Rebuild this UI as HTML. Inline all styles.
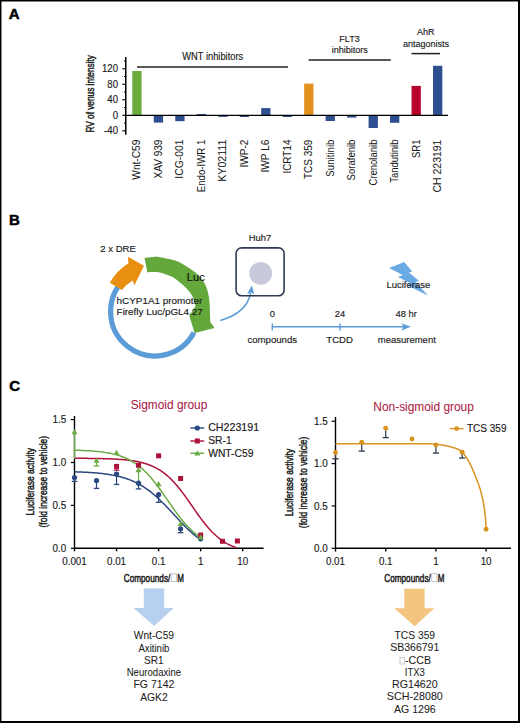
<!DOCTYPE html>
<html><head><meta charset="utf-8"><style>
html,body{margin:0;padding:0;background:#fff;}
body{width:520px;height:723px;overflow:hidden;}
svg{display:block;}
text{font-family:"Liberation Sans",sans-serif;}
</style></head><body>
<svg width="520" height="723" viewBox="0 0 520 723">
<rect x="0" y="0" width="520" height="723" fill="#fff"/>
<text x="8.70" y="19.20" font-size="15.0" text-anchor="start" fill="#000" font-weight="bold" stroke="#000" stroke-width="0.5">A</text>
<text x="9.00" y="225.00" font-size="15.0" text-anchor="start" fill="#000" font-weight="bold" stroke="#000" stroke-width="0.5">B</text>
<text x="9.20" y="391.30" font-size="15.0" text-anchor="start" fill="#000" font-weight="bold" stroke="#000" stroke-width="0.5">C</text>
<line x1="125.75" y1="57.00" x2="125.75" y2="134.80" stroke="#000" stroke-width="1.5" />
<line x1="122.30" y1="68.74" x2="126.00" y2="68.74" stroke="#000" stroke-width="1.1" />
<text x="118.00" y="72.14" font-size="10.6" text-anchor="end" fill="#1a1a1a" textLength="16.02" lengthAdjust="spacingAndGlyphs"  stroke="#1a1a1a" stroke-width="0.15">120</text>
<line x1="122.30" y1="84.26" x2="126.00" y2="84.26" stroke="#000" stroke-width="1.1" />
<text x="118.00" y="87.66" font-size="10.6" text-anchor="end" fill="#1a1a1a" textLength="10.68" lengthAdjust="spacingAndGlyphs"  stroke="#1a1a1a" stroke-width="0.15">80</text>
<line x1="122.30" y1="99.78" x2="126.00" y2="99.78" stroke="#000" stroke-width="1.1" />
<text x="118.00" y="103.18" font-size="10.6" text-anchor="end" fill="#1a1a1a" textLength="10.68" lengthAdjust="spacingAndGlyphs"  stroke="#1a1a1a" stroke-width="0.15">40</text>
<line x1="122.30" y1="115.30" x2="126.00" y2="115.30" stroke="#000" stroke-width="1.1" />
<text x="118.00" y="118.70" font-size="10.6" text-anchor="end" fill="#1a1a1a" textLength="5.34" lengthAdjust="spacingAndGlyphs"  stroke="#1a1a1a" stroke-width="0.15">0</text>
<line x1="122.30" y1="130.82" x2="126.00" y2="130.82" stroke="#000" stroke-width="1.1" />
<text x="118.00" y="134.22" font-size="10.6" text-anchor="end" fill="#1a1a1a" textLength="13.88" lengthAdjust="spacingAndGlyphs"  stroke="#1a1a1a" stroke-width="0.15">-40</text>
<line x1="124.00" y1="60.98" x2="126.00" y2="60.98" stroke="#000" stroke-width="1.0" />
<line x1="124.00" y1="76.50" x2="126.00" y2="76.50" stroke="#000" stroke-width="1.0" />
<line x1="124.00" y1="92.02" x2="126.00" y2="92.02" stroke="#000" stroke-width="1.0" />
<line x1="124.00" y1="107.54" x2="126.00" y2="107.54" stroke="#000" stroke-width="1.0" />
<line x1="124.00" y1="123.06" x2="126.00" y2="123.06" stroke="#000" stroke-width="1.0" />
<text transform="translate(93.60,93.85) rotate(-90)" font-size="10.6" text-anchor="middle" fill="#1a1a1a" textLength="77.5" lengthAdjust="spacingAndGlyphs"  stroke="#1a1a1a" stroke-width="0.45">RV of venus intensity</text>
<rect x="132.30" y="71.00" width="9.30" height="44.30" fill="#6aab3e"/>
<rect x="153.78" y="115.30" width="9.30" height="7.30" fill="#2e4f8f"/>
<rect x="175.26" y="115.30" width="9.30" height="5.90" fill="#2e4f8f"/>
<rect x="196.74" y="114.00" width="9.30" height="1.30" fill="#2e4f8f"/>
<rect x="218.22" y="115.30" width="9.30" height="1.60" fill="#2e4f8f"/>
<rect x="239.70" y="115.30" width="9.30" height="1.70" fill="#2e4f8f"/>
<rect x="261.18" y="108.10" width="9.30" height="7.20" fill="#2e4f8f"/>
<rect x="282.66" y="115.30" width="9.30" height="1.70" fill="#2e4f8f"/>
<rect x="304.14" y="83.60" width="9.30" height="31.70" fill="#e39220"/>
<rect x="325.62" y="115.30" width="9.30" height="5.70" fill="#2e4f8f"/>
<rect x="347.10" y="115.30" width="9.30" height="2.30" fill="#2e4f8f"/>
<rect x="368.58" y="115.30" width="9.30" height="12.70" fill="#2e4f8f"/>
<rect x="390.06" y="115.30" width="9.30" height="7.50" fill="#2e4f8f"/>
<rect x="411.54" y="85.90" width="9.30" height="29.40" fill="#b8002c"/>
<rect x="433.02" y="65.80" width="9.30" height="49.50" fill="#2e4f8f"/>
<line x1="126.00" y1="115.30" x2="448.00" y2="115.30" stroke="#000" stroke-width="1.3" />
<text transform="translate(140.35,139.60) rotate(-90)" font-size="10.0" text-anchor="end" fill="#1a1a1a" textLength="40.11" lengthAdjust="spacingAndGlyphs"  stroke="#1a1a1a" stroke-width="0.05">Wnt-C59</text>
<text transform="translate(161.83,139.60) rotate(-90)" font-size="10.0" text-anchor="end" fill="#1a1a1a" textLength="38.83" lengthAdjust="spacingAndGlyphs"  stroke="#1a1a1a" stroke-width="0.05">XAV 939</text>
<text transform="translate(183.31,139.60) rotate(-90)" font-size="10.0" text-anchor="end" fill="#1a1a1a" textLength="39.04" lengthAdjust="spacingAndGlyphs"  stroke="#1a1a1a" stroke-width="0.05">ICG-001</text>
<text transform="translate(204.79,139.60) rotate(-90)" font-size="10.0" text-anchor="end" fill="#1a1a1a" textLength="52.67" lengthAdjust="spacingAndGlyphs"  stroke="#1a1a1a" stroke-width="0.05">Endo-IWR 1</text>
<text transform="translate(226.27,139.60) rotate(-90)" font-size="10.0" text-anchor="end" fill="#1a1a1a" textLength="42.2" lengthAdjust="spacingAndGlyphs"  stroke="#1a1a1a" stroke-width="0.05">KY02111</text>
<text transform="translate(247.75,139.60) rotate(-90)" font-size="10.0" text-anchor="end" fill="#1a1a1a" textLength="27.83" lengthAdjust="spacingAndGlyphs"  stroke="#1a1a1a" stroke-width="0.05">IWP-2</text>
<text transform="translate(269.23,139.60) rotate(-90)" font-size="10.0" text-anchor="end" fill="#1a1a1a" textLength="32.97" lengthAdjust="spacingAndGlyphs"  stroke="#1a1a1a" stroke-width="0.05">IWP L6</text>
<text transform="translate(290.71,139.60) rotate(-90)" font-size="10.0" text-anchor="end" fill="#1a1a1a" textLength="34.01" lengthAdjust="spacingAndGlyphs"  stroke="#1a1a1a" stroke-width="0.05">ICRT14</text>
<text transform="translate(312.19,139.60) rotate(-90)" font-size="10.0" text-anchor="end" fill="#1a1a1a" textLength="39.46" lengthAdjust="spacingAndGlyphs"  stroke="#1a1a1a" stroke-width="0.05">TCS 359</text>
<text transform="translate(333.67,139.60) rotate(-90)" font-size="10.0" text-anchor="end" fill="#1a1a1a" textLength="37.08" lengthAdjust="spacingAndGlyphs"  stroke="#1a1a1a" stroke-width="0.05">Sunitinib</text>
<text transform="translate(355.15,139.60) rotate(-90)" font-size="10.0" text-anchor="end" fill="#1a1a1a" textLength="40.82" lengthAdjust="spacingAndGlyphs"  stroke="#1a1a1a" stroke-width="0.05">Sorafenib</text>
<text transform="translate(376.63,139.60) rotate(-90)" font-size="10.0" text-anchor="end" fill="#1a1a1a" textLength="45.87" lengthAdjust="spacingAndGlyphs"  stroke="#1a1a1a" stroke-width="0.05">Crenolanib</text>
<text transform="translate(398.11,139.60) rotate(-90)" font-size="10.0" text-anchor="end" fill="#1a1a1a" textLength="43.11" lengthAdjust="spacingAndGlyphs"  stroke="#1a1a1a" stroke-width="0.05">Tandutinib</text>
<text transform="translate(419.59,139.60) rotate(-90)" font-size="10.0" text-anchor="end" fill="#1a1a1a" textLength="18.4" lengthAdjust="spacingAndGlyphs"  stroke="#1a1a1a" stroke-width="0.05">SR1</text>
<text transform="translate(441.07,139.60) rotate(-90)" font-size="10.0" text-anchor="end" fill="#1a1a1a" textLength="52.84" lengthAdjust="spacingAndGlyphs"  stroke="#1a1a1a" stroke-width="0.05">CH 223191</text>
<line x1="137.00" y1="66.90" x2="288.00" y2="66.90" stroke="#222" stroke-width="1.5" />
<line x1="308.60" y1="60.00" x2="390.80" y2="60.00" stroke="#222" stroke-width="1.5" />
<line x1="411.50" y1="53.60" x2="440.00" y2="53.60" stroke="#222" stroke-width="1.5" />
<text x="212.75" y="60.40" font-size="10.23" text-anchor="middle" fill="#1a1a1a" textLength="60.81" lengthAdjust="spacingAndGlyphs"  stroke="#1a1a1a" stroke-width="0.15">WNT inhibitors</text>
<text x="349.50" y="42.20" font-size="9.0" text-anchor="middle" fill="#1a1a1a"  stroke="#1a1a1a" stroke-width="0.15">FLT3</text>
<text x="349.70" y="53.20" font-size="9.0" text-anchor="middle" fill="#1a1a1a"  stroke="#1a1a1a" stroke-width="0.15">inhibitors</text>
<text x="425.70" y="35.20" font-size="9.0" text-anchor="middle" fill="#1a1a1a"  stroke="#1a1a1a" stroke-width="0.15">AhR</text>
<text x="425.90" y="46.80" font-size="9.0" text-anchor="middle" fill="#1a1a1a"  stroke="#1a1a1a" stroke-width="0.15">antagonists</text>
<path d="M193.98,332.57 A44.3,44.3 0 1 1 126.42,277.76" fill="none" stroke="#5b9bd8" stroke-width="5.2"/>
<path d="M144.60,257.70 C146.00,257.57 150.43,256.97 153.00,256.90 C155.57,256.83 156.33,256.68 160.00,257.30 C163.67,257.92 170.83,259.25 175.00,260.60 C179.17,261.95 181.75,263.53 185.00,265.40 C188.25,267.27 191.67,269.45 194.50,271.80 C197.33,274.15 199.98,276.83 202.00,279.50 C204.02,282.17 205.47,284.97 206.60,287.80 C207.73,290.63 208.28,293.55 208.80,296.50 C209.32,299.45 209.50,302.50 209.70,305.50 C209.90,308.50 209.90,311.75 210.00,314.50 C210.10,317.25 210.25,320.75 210.30,322.00 L214.6,327.9 L194.6,332.9 L189.3,315.8 L195.60,306.00 C195.10,304.45 193.98,299.48 192.60,296.70 C191.22,293.92 189.42,291.67 187.30,289.30 C185.18,286.93 182.53,284.62 179.90,282.50 C177.27,280.38 174.67,278.23 171.50,276.60 C168.33,274.97 164.15,273.47 160.90,272.70 C157.65,271.93 154.27,272.07 152.00,272.00 C149.73,271.93 148.08,272.25 147.30,272.30 Z" fill="#64a83c"/>
<path d="M109.8,282.7 A54.5,54.5 0 0 1 128.4,263.2 L127.9,256.8 L144.0,265.8 L134.4,285.3 L132.7,280.5 A39,39 0 0 0 121.9,290.1 Z" fill="#e88f12"/>
<path d="M220.2,320.5 C236,316 248,307 250.6,293" fill="none" stroke="#5b9bd8" stroke-width="1.4"/>
<path d="M251.8,285.4 L254.4,294.2 L251.2,292.4 L247.2,293.8 Z" fill="#5b9bd8"/>
<rect x="236.1" y="247.85" width="48.0" height="47.9" rx="5.5" fill="none" stroke="#2f3b52" stroke-width="1.6"/>
<circle cx="260.7" cy="273.4" r="11.4" fill="#c9c9dc"/>
<line x1="272.3" y1="326.8" x2="405" y2="326.8" stroke="#5b9bd8" stroke-width="1.6"/>
<line x1="272.3" y1="323.4" x2="272.3" y2="330.4" stroke="#5b9bd8" stroke-width="1.4"/>
<line x1="340" y1="323.6" x2="340" y2="330.4" stroke="#5b9bd8" stroke-width="1.4"/>
<path d="M410.8,326.8 L401.5,323.2 L403.5,326.8 L401.5,330.4 Z" fill="#5b9bd8"/>
<polygon points="404.27,262.00 389.00,268.08 402.66,275.05 398.02,277.07 411.02,283.56 407.03,285.16 428.00,295.50 415.66,282.02 418.90,280.64 408.92,272.61 412.17,271.49" fill="#6aaae4"/>
<text x="100.20" y="252.00" font-size="9.6" text-anchor="start" fill="#1a1a1a"  stroke="#1a1a1a" stroke-width="0.15">2 x DRE</text>
<text x="186.70" y="281.20" font-size="11.2" text-anchor="start" fill="#111"  stroke="#111" stroke-width="0.15">Luc</text>
<text x="116.60" y="304.00" font-size="9.9" text-anchor="start" fill="#1a1a1a"  stroke="#1a1a1a" stroke-width="0.15">hCYP1A1 promoter</text>
<text x="116.60" y="315.00" font-size="9.9" text-anchor="start" fill="#1a1a1a"  stroke="#1a1a1a" stroke-width="0.15">Firefly Luc/pGL4.27</text>
<text x="259.90" y="241.20" font-size="9.4" text-anchor="middle" fill="#1a1a1a"  stroke="#1a1a1a" stroke-width="0.15">Huh7</text>
<text x="272.30" y="316.70" font-size="9.4" text-anchor="middle" fill="#1a1a1a"  stroke="#1a1a1a" stroke-width="0.15">0</text>
<text x="340.00" y="316.50" font-size="9.4" text-anchor="middle" fill="#1a1a1a"  stroke="#1a1a1a" stroke-width="0.15">24</text>
<text x="406.20" y="316.50" font-size="9.4" text-anchor="middle" fill="#1a1a1a"  stroke="#1a1a1a" stroke-width="0.15">48 hr</text>
<text x="272.30" y="343.00" font-size="9.6" text-anchor="middle" fill="#1a1a1a"  stroke="#1a1a1a" stroke-width="0.15">compounds</text>
<text x="339.60" y="343.00" font-size="9.6" text-anchor="middle" fill="#1a1a1a"  stroke="#1a1a1a" stroke-width="0.15">TCDD</text>
<text x="406.80" y="343.00" font-size="9.5" text-anchor="middle" fill="#1a1a1a"  stroke="#1a1a1a" stroke-width="0.15">measurement</text>
<text x="408.30" y="288.10" font-size="9.5" text-anchor="middle" fill="#1a1a1a"  stroke="#1a1a1a" stroke-width="0.15">Luciferase</text>
<line x1="74.50" y1="416.00" x2="74.50" y2="548.30" stroke="#000" stroke-width="1.4" />
<line x1="74.50" y1="548.30" x2="263.60" y2="548.30" stroke="#000" stroke-width="1.4" />
<line x1="70.80" y1="419.60" x2="74.50" y2="419.60" stroke="#000" stroke-width="1.2" />
<text x="66.30" y="423.00" font-size="10.5" text-anchor="end" fill="#1a1a1a" textLength="13.76" lengthAdjust="spacingAndGlyphs"  stroke="#1a1a1a" stroke-width="0.15">1.5</text>
<line x1="70.80" y1="462.50" x2="74.50" y2="462.50" stroke="#000" stroke-width="1.2" />
<text x="66.30" y="465.90" font-size="10.5" text-anchor="end" fill="#1a1a1a" textLength="13.76" lengthAdjust="spacingAndGlyphs"  stroke="#1a1a1a" stroke-width="0.15">1.0</text>
<line x1="70.80" y1="505.40" x2="74.50" y2="505.40" stroke="#000" stroke-width="1.2" />
<text x="66.30" y="508.80" font-size="10.5" text-anchor="end" fill="#1a1a1a" textLength="13.76" lengthAdjust="spacingAndGlyphs"  stroke="#1a1a1a" stroke-width="0.15">0.5</text>
<line x1="70.80" y1="548.30" x2="74.50" y2="548.30" stroke="#000" stroke-width="1.2" />
<text x="66.30" y="551.70" font-size="10.5" text-anchor="end" fill="#1a1a1a" textLength="13.76" lengthAdjust="spacingAndGlyphs"  stroke="#1a1a1a" stroke-width="0.15">0.0</text>
<line x1="74.50" y1="548.30" x2="74.50" y2="551.30" stroke="#000" stroke-width="1.4" />
<text x="74.50" y="565.00" font-size="10.6" text-anchor="middle" fill="#1a1a1a" textLength="24.52" lengthAdjust="spacingAndGlyphs"  stroke="#1a1a1a" stroke-width="0.15">0.001</text>
<line x1="116.55" y1="548.30" x2="116.55" y2="551.30" stroke="#000" stroke-width="1.4" />
<text x="116.55" y="565.00" font-size="10.6" text-anchor="middle" fill="#1a1a1a" textLength="19.07" lengthAdjust="spacingAndGlyphs"  stroke="#1a1a1a" stroke-width="0.15">0.01</text>
<line x1="158.60" y1="548.30" x2="158.60" y2="551.30" stroke="#000" stroke-width="1.4" />
<text x="158.60" y="565.00" font-size="10.6" text-anchor="middle" fill="#1a1a1a" textLength="13.62" lengthAdjust="spacingAndGlyphs"  stroke="#1a1a1a" stroke-width="0.15">0.1</text>
<line x1="200.65" y1="548.30" x2="200.65" y2="551.30" stroke="#000" stroke-width="1.4" />
<text x="200.65" y="565.00" font-size="10.6" text-anchor="middle" fill="#1a1a1a" textLength="5.45" lengthAdjust="spacingAndGlyphs"  stroke="#1a1a1a" stroke-width="0.15">1</text>
<line x1="242.70" y1="548.30" x2="242.70" y2="551.30" stroke="#000" stroke-width="1.4" />
<text x="242.70" y="565.00" font-size="10.6" text-anchor="middle" fill="#1a1a1a" textLength="10.9" lengthAdjust="spacingAndGlyphs"  stroke="#1a1a1a" stroke-width="0.15">10</text>
<path d="M74.50,458.28 L75.86,458.29 L77.22,458.29 L78.59,458.30 L79.95,458.31 L81.31,458.32 L82.67,458.33 L84.04,458.34 L85.40,458.35 L86.76,458.37 L88.12,458.38 L89.48,458.39 L90.85,458.41 L92.21,458.43 L93.57,458.45 L94.93,458.47 L96.29,458.49 L97.66,458.52 L99.02,458.55 L100.38,458.58 L101.74,458.61 L103.11,458.64 L104.47,458.68 L105.83,458.72 L107.19,458.77 L108.55,458.81 L109.92,458.87 L111.28,458.92 L112.64,458.98 L114.00,459.05 L115.37,459.12 L116.73,459.20 L118.09,459.29 L119.45,459.38 L120.81,459.48 L122.18,459.59 L123.54,459.70 L124.90,459.83 L126.26,459.97 L127.63,460.11 L128.99,460.28 L130.35,460.45 L131.71,460.64 L133.07,460.84 L134.44,461.06 L135.80,461.30 L137.16,461.55 L138.52,461.83 L139.88,462.13 L141.25,462.45 L142.61,462.80 L143.97,463.17 L145.33,463.57 L146.70,464.01 L148.06,464.47 L149.42,464.97 L150.78,465.51 L152.14,466.08 L153.51,466.70 L154.87,467.36 L156.23,468.06 L157.59,468.81 L158.96,469.62 L160.32,470.47 L161.68,471.38 L163.04,472.34 L164.40,473.36 L165.77,474.44 L167.13,475.58 L168.49,476.78 L169.85,478.04 L171.22,479.37 L172.58,480.76 L173.94,482.21 L175.30,483.71 L176.66,485.28 L178.03,486.91 L179.39,488.59 L180.75,490.32 L182.11,492.10 L183.47,493.92 L184.84,495.78 L186.20,497.67 L187.56,499.59 L188.92,501.54 L190.29,503.49 L191.65,505.46 L193.01,507.43 L194.37,509.39 L195.73,511.34 L197.10,513.28 L198.46,515.19 L199.82,517.07 L201.18,518.91 L202.55,520.72 L203.91,522.47 L205.27,524.19 L206.63,525.84 L207.99,527.45 L209.36,528.99 L210.72,530.48 L212.08,531.90 L213.44,533.26 L214.81,534.56 L216.17,535.80 L217.53,536.97 L218.89,538.09 L220.25,539.14 L221.62,540.14 L222.98,541.08 L224.34,541.97 L225.70,542.80 L227.06,543.58 L228.43,544.31 L229.79,545.00 L231.15,545.64 L232.51,546.24 L233.88,546.80 L235.24,547.32 L236.60,547.80" fill="none" stroke="#ad1239" stroke-width="1.5"/>
<path d="M74.50,450.18 L75.77,450.22 L77.05,450.26 L78.32,450.30 L79.60,450.35 L80.87,450.40 L82.15,450.45 L83.42,450.50 L84.70,450.56 L85.97,450.63 L87.25,450.70 L88.52,450.77 L89.80,450.85 L91.07,450.94 L92.35,451.03 L93.62,451.13 L94.90,451.24 L96.17,451.36 L97.45,451.48 L98.72,451.61 L99.99,451.75 L101.27,451.91 L102.54,452.07 L103.82,452.24 L105.09,452.43 L106.37,452.63 L107.64,452.85 L108.92,453.08 L110.19,453.32 L111.47,453.59 L112.74,453.87 L114.02,454.17 L115.29,454.50 L116.57,454.84 L117.84,455.21 L119.12,455.60 L120.39,456.02 L121.67,456.47 L122.94,456.94 L124.22,457.45 L125.49,457.99 L126.76,458.56 L128.04,459.17 L129.31,459.82 L130.59,460.50 L131.86,461.23 L133.14,462.00 L134.41,462.81 L135.69,463.66 L136.96,464.57 L138.24,465.52 L139.51,466.52 L140.79,467.57 L142.06,468.67 L143.34,469.82 L144.61,471.02 L145.89,472.28 L147.16,473.58 L148.44,474.94 L149.71,476.35 L150.98,477.81 L152.26,479.32 L153.53,480.87 L154.81,482.47 L156.08,484.11 L157.36,485.79 L158.63,487.50 L159.91,489.25 L161.18,491.02 L162.46,492.82 L163.73,494.63 L165.01,496.47 L166.28,498.31 L167.56,500.16 L168.83,502.00 L170.11,503.85 L171.38,505.68 L172.66,507.50 L173.93,509.30 L175.21,511.08 L176.48,512.83 L177.75,514.55 L179.03,516.24 L180.30,517.88 L181.58,519.49 L182.85,521.05 L184.13,522.56 L185.40,524.03 L186.68,525.45 L187.95,526.82 L189.23,528.13 L190.50,529.40 L191.78,530.61 L193.05,531.77 L194.33,532.88 L195.60,533.94 L196.88,534.95 L198.15,535.91 L199.43,536.82 L200.70,537.68" fill="none" stroke="#6cac45" stroke-width="1.5"/>
<path d="M74.50,471.80 L75.77,471.84 L77.05,471.88 L78.32,471.92 L79.60,471.97 L80.87,472.02 L82.15,472.08 L83.42,472.13 L84.70,472.20 L85.97,472.26 L87.25,472.33 L88.52,472.40 L89.80,472.48 L91.07,472.57 L92.35,472.65 L93.62,472.75 L94.90,472.85 L96.17,472.96 L97.45,473.07 L98.72,473.19 L99.99,473.32 L101.27,473.45 L102.54,473.60 L103.82,473.75 L105.09,473.91 L106.37,474.09 L107.64,474.27 L108.92,474.46 L110.19,474.67 L111.47,474.89 L112.74,475.12 L114.02,475.36 L115.29,475.62 L116.57,475.90 L117.84,476.19 L119.12,476.50 L120.39,476.82 L121.67,477.16 L122.94,477.53 L124.22,477.91 L125.49,478.32 L126.76,478.74 L128.04,479.19 L129.31,479.66 L130.59,480.16 L131.86,480.69 L133.14,481.24 L134.41,481.81 L135.69,482.42 L136.96,483.06 L138.24,483.72 L139.51,484.42 L140.79,485.15 L142.06,485.91 L143.34,486.70 L144.61,487.52 L145.89,488.38 L147.16,489.28 L148.44,490.20 L149.71,491.16 L150.98,492.15 L152.26,493.18 L153.53,494.24 L154.81,495.33 L156.08,496.45 L157.36,497.61 L158.63,498.79 L159.91,500.00 L161.18,501.23 L162.46,502.49 L163.73,503.77 L165.01,505.08 L166.28,506.40 L167.56,507.74 L168.83,509.09 L170.11,510.45 L171.38,511.82 L172.66,513.20 L173.93,514.57 L175.21,515.95 L176.48,517.33 L177.75,518.70 L179.03,520.06 L180.30,521.42 L181.58,522.76 L182.85,524.08 L184.13,525.38 L185.40,526.67 L186.68,527.93 L187.95,529.17 L189.23,530.38 L190.50,531.57 L191.78,532.72 L193.05,533.85 L194.33,534.94 L195.60,536.00 L196.88,537.03 L198.15,538.03 L199.43,539.00 L200.70,539.92" fill="none" stroke="#2a4882" stroke-width="1.5"/>
<line x1="74.50" y1="477.50" x2="74.50" y2="481.40" stroke="#2a4882" stroke-width="1.2" />
<line x1="71.75" y1="481.40" x2="77.25" y2="481.40" stroke="#2a4882" stroke-width="1.3" />
<line x1="96.49" y1="480.60" x2="96.49" y2="488.40" stroke="#2a4882" stroke-width="1.2" />
<line x1="93.74" y1="488.40" x2="99.24" y2="488.40" stroke="#2a4882" stroke-width="1.3" />
<line x1="116.55" y1="474.00" x2="116.55" y2="484.40" stroke="#2a4882" stroke-width="1.2" />
<line x1="113.80" y1="484.40" x2="119.30" y2="484.40" stroke="#2a4882" stroke-width="1.3" />
<line x1="138.54" y1="483.20" x2="138.54" y2="488.90" stroke="#2a4882" stroke-width="1.2" />
<line x1="135.79" y1="488.90" x2="141.29" y2="488.90" stroke="#2a4882" stroke-width="1.3" />
<line x1="158.60" y1="494.60" x2="158.60" y2="502.30" stroke="#2a4882" stroke-width="1.2" />
<line x1="155.85" y1="502.30" x2="161.35" y2="502.30" stroke="#2a4882" stroke-width="1.3" />
<line x1="180.59" y1="528.80" x2="180.59" y2="532.70" stroke="#2a4882" stroke-width="1.2" />
<line x1="177.84" y1="532.70" x2="183.34" y2="532.70" stroke="#2a4882" stroke-width="1.3" />
<line x1="74.50" y1="432.10" x2="74.50" y2="459.00" stroke="#6cac45" stroke-width="1.2" />
<line x1="74.50" y1="459.00" x2="74.50" y2="459.00" stroke="#6cac45" stroke-width="1.3" />
<line x1="96.49" y1="460.70" x2="96.49" y2="465.90" stroke="#6cac45" stroke-width="1.2" />
<line x1="93.74" y1="465.90" x2="99.24" y2="465.90" stroke="#6cac45" stroke-width="1.3" />
<line x1="138.54" y1="468.00" x2="138.54" y2="482.00" stroke="#6cac45" stroke-width="1.2" />
<line x1="138.54" y1="482.00" x2="138.54" y2="482.00" stroke="#6cac45" stroke-width="1.3" />
<line x1="116.55" y1="466.40" x2="116.55" y2="470.20" stroke="#ad1239" stroke-width="1.2" />
<line x1="113.80" y1="470.20" x2="119.30" y2="470.20" stroke="#ad1239" stroke-width="1.3" />
<circle cx="74.50" cy="477.50" r="2.6" fill="#2a4882"/>
<circle cx="96.49" cy="480.60" r="2.6" fill="#2a4882"/>
<circle cx="116.55" cy="474.00" r="2.6" fill="#2a4882"/>
<circle cx="138.54" cy="483.20" r="2.6" fill="#2a4882"/>
<circle cx="158.60" cy="494.60" r="2.6" fill="#2a4882"/>
<circle cx="180.59" cy="528.80" r="2.6" fill="#2a4882"/>
<circle cx="200.65" cy="538.80" r="2.6" fill="#2a4882"/>
<rect x="114.05" y="463.90" width="5.0" height="5.0" fill="#ad1239"/>
<rect x="136.04" y="462.80" width="5.0" height="5.0" fill="#ad1239"/>
<rect x="156.10" y="453.30" width="5.0" height="5.0" fill="#ad1239"/>
<rect x="178.09" y="476.00" width="5.0" height="5.0" fill="#ad1239"/>
<rect x="198.15" y="532.50" width="5.0" height="5.0" fill="#ad1239"/>
<rect x="220.00" y="538.80" width="5.0" height="5.0" fill="#ad1239"/>
<rect x="234.90" y="538.50" width="5.0" height="5.0" fill="#ad1239"/>
<path d="M74.50,428.97 L77.50,434.19 L71.50,434.19 Z" fill="#6cac45"/>
<path d="M96.49,457.57 L99.49,462.79 L93.49,462.79 Z" fill="#6cac45"/>
<path d="M116.55,449.77 L119.55,454.99 L113.55,454.99 Z" fill="#6cac45"/>
<path d="M138.54,467.07 L141.54,472.29 L135.54,472.29 Z" fill="#6cac45"/>
<path d="M158.60,481.07 L161.60,486.29 L155.60,486.29 Z" fill="#6cac45"/>
<path d="M180.59,520.87 L183.59,526.09 L177.59,526.09 Z" fill="#6cac45"/>
<path d="M200.65,534.37 L203.65,539.59 L197.65,539.59 Z" fill="#6cac45"/>
<line x1="190.40" y1="428.00" x2="204.20" y2="428.00" stroke="#2a4882" stroke-width="1.4" />
<circle cx="197.30" cy="428.00" r="2.6" fill="#2a4882"/>
<line x1="190.40" y1="441.00" x2="204.20" y2="441.00" stroke="#ad1239" stroke-width="1.4" />
<rect x="194.80" y="438.50" width="5.0" height="5.0" fill="#ad1239"/>
<line x1="190.40" y1="453.30" x2="204.20" y2="453.30" stroke="#6cac45" stroke-width="1.4" />
<path d="M197.30,450.17 L200.30,455.39 L194.30,455.39 Z" fill="#6cac45"/>
<text x="208.20" y="431.30" font-size="10.3" text-anchor="start" fill="#1a1a1a" textLength="50.87" lengthAdjust="spacingAndGlyphs"  stroke="#1a1a1a" stroke-width="0.15">CH223191</text>
<text x="208.20" y="444.30" font-size="10.3" text-anchor="start" fill="#1a1a1a"  stroke="#1a1a1a" stroke-width="0.15">SR-1</text>
<text x="208.20" y="456.60" font-size="10.3" text-anchor="start" fill="#1a1a1a"  stroke="#1a1a1a" stroke-width="0.15">WNT-C59</text>
<text x="169.00" y="409.20" font-size="11.9" text-anchor="middle" fill="#a8183f"  stroke="#a8183f" stroke-width="0.05">Sigmoid group</text>
<text transform="translate(33.60,481.70) rotate(-90)" font-size="10.6" text-anchor="middle" fill="#1a1a1a" textLength="67.5" lengthAdjust="spacingAndGlyphs"  stroke="#1a1a1a" stroke-width="0.45">Luciferase activity</text>
<text transform="translate(47.20,481.70) rotate(-90)" font-size="10.6" text-anchor="middle" fill="#1a1a1a" textLength="91.5" lengthAdjust="spacingAndGlyphs"  stroke="#1a1a1a" stroke-width="0.45">(fold increase to vehicle)</text>
<text x="123.70" y="581.60" font-size="11.4" fill="#1a1a1a" stroke="#1a1a1a" stroke-width="0.5" textLength="46.6" lengthAdjust="spacingAndGlyphs">Compounds/</text>
<rect x="171.20" y="573.70" width="5.2" height="7.8" fill="none" stroke="#c4c4c4" stroke-width="1"/>
<text x="177.30" y="581.60" font-size="11.4" fill="#1a1a1a" stroke="#1a1a1a" stroke-width="0.5" textLength="6.7" lengthAdjust="spacingAndGlyphs">M</text>
<line x1="335.50" y1="417.00" x2="335.50" y2="548.30" stroke="#000" stroke-width="1.4" />
<line x1="335.50" y1="548.30" x2="511.00" y2="548.30" stroke="#000" stroke-width="1.4" />
<line x1="331.60" y1="421.25" x2="335.50" y2="421.25" stroke="#000" stroke-width="1.2" />
<text x="327.70" y="424.85" font-size="10.5" text-anchor="end" fill="#1a1a1a" textLength="13.76" lengthAdjust="spacingAndGlyphs"  stroke="#1a1a1a" stroke-width="0.15">1.5</text>
<line x1="331.60" y1="463.60" x2="335.50" y2="463.60" stroke="#000" stroke-width="1.2" />
<text x="327.70" y="467.20" font-size="10.5" text-anchor="end" fill="#1a1a1a" textLength="13.76" lengthAdjust="spacingAndGlyphs"  stroke="#1a1a1a" stroke-width="0.15">1.0</text>
<line x1="331.60" y1="505.95" x2="335.50" y2="505.95" stroke="#000" stroke-width="1.2" />
<text x="327.70" y="509.55" font-size="10.5" text-anchor="end" fill="#1a1a1a" textLength="13.76" lengthAdjust="spacingAndGlyphs"  stroke="#1a1a1a" stroke-width="0.15">0.5</text>
<line x1="331.60" y1="548.30" x2="335.50" y2="548.30" stroke="#000" stroke-width="1.2" />
<text x="327.70" y="551.90" font-size="10.5" text-anchor="end" fill="#1a1a1a" textLength="13.76" lengthAdjust="spacingAndGlyphs"  stroke="#1a1a1a" stroke-width="0.15">0.0</text>
<line x1="335.50" y1="548.30" x2="335.50" y2="551.60" stroke="#000" stroke-width="1.4" />
<text x="335.50" y="565.00" font-size="10.6" text-anchor="middle" fill="#1a1a1a" textLength="19.07" lengthAdjust="spacingAndGlyphs"  stroke="#1a1a1a" stroke-width="0.15">0.01</text>
<line x1="385.70" y1="548.30" x2="385.70" y2="551.60" stroke="#000" stroke-width="1.4" />
<text x="385.70" y="565.00" font-size="10.6" text-anchor="middle" fill="#1a1a1a" textLength="13.62" lengthAdjust="spacingAndGlyphs"  stroke="#1a1a1a" stroke-width="0.15">0.1</text>
<line x1="435.90" y1="548.30" x2="435.90" y2="551.60" stroke="#000" stroke-width="1.4" />
<text x="435.90" y="565.00" font-size="10.6" text-anchor="middle" fill="#1a1a1a" textLength="5.45" lengthAdjust="spacingAndGlyphs"  stroke="#1a1a1a" stroke-width="0.15">1</text>
<line x1="486.10" y1="548.30" x2="486.10" y2="551.60" stroke="#000" stroke-width="1.4" />
<text x="486.10" y="565.00" font-size="10.6" text-anchor="middle" fill="#1a1a1a" textLength="10.9" lengthAdjust="spacingAndGlyphs"  stroke="#1a1a1a" stroke-width="0.15">10</text>
<path d="M335.50,443.80 L339.80,443.80 L345.49,443.80 L352.30,443.79 L359.97,443.79 L368.22,443.78 L376.79,443.77 L385.41,443.77 L393.82,443.77 L401.75,443.77 L408.94,443.78 L415.11,443.79 L420.00,443.80 L423.70,443.81 L426.57,443.82 L428.71,443.82 L430.25,443.82 L431.32,443.82 L432.02,443.83 L432.48,443.85 L432.83,443.88 L433.17,443.93 L433.63,444.00 L434.34,444.08 L435.40,444.20 L436.70,444.34 L438.02,444.49 L439.36,444.67 L440.71,444.86 L442.05,445.07 L443.39,445.29 L444.72,445.52 L446.01,445.77 L447.28,446.04 L448.51,446.31 L449.68,446.60 L450.80,446.90 L451.87,447.20 L452.89,447.48 L453.88,447.77 L454.83,448.06 L455.74,448.37 L456.63,448.69 L457.49,449.05 L458.33,449.44 L459.15,449.87 L459.94,450.35 L460.73,450.89 L461.50,451.50 L462.25,452.17 L462.97,452.91 L463.67,453.69 L464.34,454.53 L465.00,455.40 L465.63,456.32 L466.25,457.27 L466.86,458.24 L467.45,459.24 L468.04,460.25 L468.62,461.27 L469.20,462.30 L469.77,463.35 L470.33,464.42 L470.87,465.52 L471.41,466.65 L471.93,467.80 L472.44,468.97 L472.95,470.15 L473.45,471.35 L473.94,472.55 L474.43,473.77 L474.92,474.98 L475.40,476.20 L475.88,477.42 L476.36,478.63 L476.84,479.85 L477.32,481.08 L477.79,482.31 L478.25,483.56 L478.70,484.83 L479.15,486.11 L479.58,487.42 L480.00,488.75 L480.41,490.11 L480.80,491.50 L481.18,492.93 L481.55,494.39 L481.91,495.89 L482.27,497.42 L482.61,498.97 L482.94,500.53 L483.25,502.11 L483.56,503.69 L483.84,505.28 L484.11,506.86 L484.37,508.44 L484.60,510.00 L484.82,511.62 L485.01,513.33 L485.19,515.12 L485.36,516.94 L485.50,518.76 L485.64,520.56 L485.76,522.28 L485.87,523.91 L485.96,525.41 L486.05,526.75 L486.13,527.89 L486.20,528.80" fill="none" stroke="#d9921e" stroke-width="1.5"/>
<line x1="335.50" y1="452.50" x2="335.50" y2="458.80" stroke="#2b3a4c" stroke-width="1.2" />
<line x1="332.40" y1="458.80" x2="338.60" y2="458.80" stroke="#2b3a4c" stroke-width="1.3" />
<line x1="361.75" y1="442.20" x2="361.75" y2="451.10" stroke="#2b3a4c" stroke-width="1.2" />
<line x1="358.65" y1="451.10" x2="364.85" y2="451.10" stroke="#2b3a4c" stroke-width="1.3" />
<line x1="385.70" y1="428.30" x2="385.70" y2="437.60" stroke="#2b3a4c" stroke-width="1.2" />
<line x1="382.60" y1="437.60" x2="388.80" y2="437.60" stroke="#2b3a4c" stroke-width="1.3" />
<line x1="435.90" y1="444.90" x2="435.90" y2="453.10" stroke="#2b3a4c" stroke-width="1.2" />
<line x1="432.80" y1="453.10" x2="439.00" y2="453.10" stroke="#2b3a4c" stroke-width="1.3" />
<line x1="462.15" y1="452.30" x2="462.15" y2="458.00" stroke="#2b3a4c" stroke-width="1.2" />
<line x1="459.05" y1="458.00" x2="465.25" y2="458.00" stroke="#2b3a4c" stroke-width="1.3" />
<circle cx="335.50" cy="452.50" r="2.45" fill="#d9921e"/>
<circle cx="361.75" cy="442.20" r="2.45" fill="#d9921e"/>
<circle cx="385.70" cy="428.30" r="2.45" fill="#d9921e"/>
<circle cx="411.95" cy="439.00" r="2.45" fill="#d9921e"/>
<circle cx="435.90" cy="444.90" r="2.45" fill="#d9921e"/>
<circle cx="462.15" cy="452.30" r="2.45" fill="#d9921e"/>
<circle cx="486.10" cy="529.20" r="2.45" fill="#d9921e"/>
<line x1="449.70" y1="428.60" x2="463.50" y2="428.60" stroke="#d9921e" stroke-width="1.4" />
<circle cx="456.60" cy="428.60" r="2.45" fill="#d9921e"/>
<text x="467.00" y="431.80" font-size="10.0" text-anchor="start" fill="#1a1a1a"  stroke="#1a1a1a" stroke-width="0.15">TCS 359</text>
<text x="423.60" y="411.20" font-size="11.9" text-anchor="middle" fill="#a8183f"  stroke="#a8183f" stroke-width="0.05">Non-sigmoid group</text>
<text transform="translate(293.20,482.60) rotate(-90)" font-size="10.6" text-anchor="middle" fill="#1a1a1a" textLength="67.5" lengthAdjust="spacingAndGlyphs"  stroke="#1a1a1a" stroke-width="0.45">Luciferase activity</text>
<text transform="translate(306.90,482.40) rotate(-90)" font-size="10.6" text-anchor="middle" fill="#1a1a1a" textLength="91.5" lengthAdjust="spacingAndGlyphs"  stroke="#1a1a1a" stroke-width="0.45">(fold increase to vehicle)</text>
<text x="384.20" y="581.60" font-size="11.4" fill="#1a1a1a" stroke="#1a1a1a" stroke-width="0.5" textLength="46.6" lengthAdjust="spacingAndGlyphs">Compounds/</text>
<rect x="431.70" y="573.70" width="5.2" height="7.8" fill="none" stroke="#c4c4c4" stroke-width="1"/>
<text x="437.80" y="581.60" font-size="11.4" fill="#1a1a1a" stroke="#1a1a1a" stroke-width="0.5" textLength="6.7" lengthAdjust="spacingAndGlyphs">M</text>
<path d="M143.8,588.5 H164.2 V608.1 H173.8 L154.2,626.1 L133.5,608.1 H143.8 Z" fill="#b8d0f0"/>
<path d="M404.3,588.8 H424.6 V608.2 H434.3 L414.7,626.2 L394.2,608.2 H404.3 Z" fill="#f4c481"/>
<text x="153.90" y="639.40" font-size="10.69" text-anchor="middle" fill="#1a1a1a" textLength="40.21" lengthAdjust="spacingAndGlyphs"  stroke="#1a1a1a" stroke-width="0.05">Wnt-C59</text>
<text x="153.90" y="651.80" font-size="10.69" text-anchor="middle" fill="#1a1a1a" textLength="30.92" lengthAdjust="spacingAndGlyphs"  stroke="#1a1a1a" stroke-width="0.05">Axitinib</text>
<text x="153.90" y="664.00" font-size="10.69" text-anchor="middle" fill="#1a1a1a" textLength="19.56" lengthAdjust="spacingAndGlyphs"  stroke="#1a1a1a" stroke-width="0.05">SR1</text>
<text x="153.90" y="676.00" font-size="10.69" text-anchor="middle" fill="#1a1a1a" textLength="54.4" lengthAdjust="spacingAndGlyphs"  stroke="#1a1a1a" stroke-width="0.05">Neurodaxine</text>
<text x="153.90" y="688.10" font-size="10.69" text-anchor="middle" fill="#1a1a1a" textLength="40.88" lengthAdjust="spacingAndGlyphs"  stroke="#1a1a1a" stroke-width="0.05">FG 7142</text>
<text x="153.90" y="700.50" font-size="10.69" text-anchor="middle" fill="#1a1a1a" textLength="27.5" lengthAdjust="spacingAndGlyphs"  stroke="#1a1a1a" stroke-width="0.05">AGK2</text>
<text x="414.80" y="639.00" font-size="10.69" text-anchor="middle" fill="#1a1a1a" textLength="40.53" lengthAdjust="spacingAndGlyphs"  stroke="#1a1a1a" stroke-width="0.05">TCS 359</text>
<text x="414.80" y="651.20" font-size="10.69" text-anchor="middle" fill="#1a1a1a" textLength="49.01" lengthAdjust="spacingAndGlyphs"  stroke="#1a1a1a" stroke-width="0.05">SB366791</text>
<text x="414.80" y="675.80" font-size="10.69" text-anchor="middle" fill="#1a1a1a" textLength="20.1" lengthAdjust="spacingAndGlyphs"  stroke="#1a1a1a" stroke-width="0.05">ITX3</text>
<text x="414.80" y="688.00" font-size="10.69" text-anchor="middle" fill="#1a1a1a" textLength="45.69" lengthAdjust="spacingAndGlyphs"  stroke="#1a1a1a" stroke-width="0.05">RG14620</text>
<text x="414.80" y="700.30" font-size="10.69" text-anchor="middle" fill="#1a1a1a" textLength="56.11" lengthAdjust="spacingAndGlyphs"  stroke="#1a1a1a" stroke-width="0.05">SCH-28080</text>
<text x="414.80" y="712.60" font-size="10.69" text-anchor="middle" fill="#1a1a1a" textLength="41.65" lengthAdjust="spacingAndGlyphs"  stroke="#1a1a1a" stroke-width="0.05">AG 1296</text>
<text x="405.00" y="663.60" font-size="10.69" text-anchor="start" fill="#1a1a1a" textLength="26.27" lengthAdjust="spacingAndGlyphs"  stroke="#1a1a1a" stroke-width="0.05">-CCB</text>
<rect x="400.0" y="657.6" width="4.6" height="6.4" fill="none" stroke="#c8c8c8" stroke-width="1"/>
<path d="M0.7,0.7 H518.9 V721.9 H0.7 Z" fill="none" stroke="#000" stroke-width="1.5"/>
<rect x="518" y="0" width="2" height="723" fill="#000"/>
<rect x="0" y="721" width="520" height="2" fill="#000"/>
</svg>
</body></html>
